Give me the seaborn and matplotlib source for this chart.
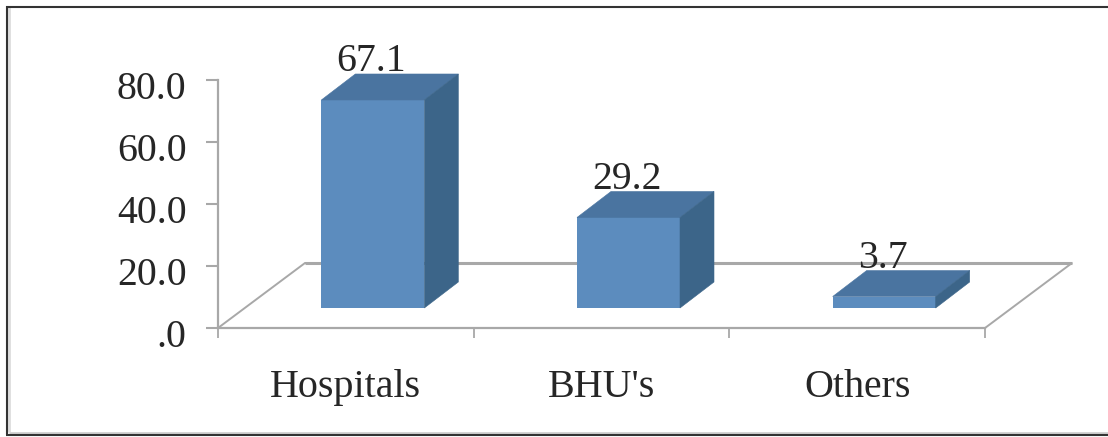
import matplotlib
matplotlib.use("Agg")
import matplotlib.pyplot as plt
from matplotlib.lines import Line2D
from matplotlib.patches import Polygon
from matplotlib.transforms import ScaledTranslation
import pandas as pd
import seaborn as sns

categories = ["Hospitals", "BHU's", "Others"]
values = [67.1, 29.2, 3.7]
y_ticks = [0, 20, 40, 60, 80]
y_tick_labels = [".0", "20.0", "40.0", "60.0", "80.0"]

W, H = 1108, 437
FRONT, TOP, SIDE = "#5c8cbe", "#4a74a0", "#3c6589"
GREY = "#a8a8a8"
INK = "#262626"

sns.set_theme(style="white")
plt.rcParams["font.family"] = ["Liberation Serif", "DejaVu Serif"]
FS = 28.6

fig = plt.figure(figsize=(W / 100, H / 100), dpi=100, facecolor="white")
left, right, y0, y80 = 218, 985, 328, 80
ax = fig.add_axes([left / W, 1 - y0 / H, (right - left) / W, (y0 - y80) / H])

df = pd.DataFrame({"category": categories, "value": values})
sns.barplot(data=df, x="category", y="value", color=FRONT, saturation=1,
            width=103 / 255.67, ax=ax, zorder=5, linewidth=0)
ax.set_xlim(-0.5, 2.5)
ax.set_ylim(0, 80)
ax.patch.set_alpha(0)

# Oblique projection: pixel depth converted to data units
px_x = 3 / (right - left)
px_y = 80 / (y0 - y80)
floor_dx, floor_dy = 87 * px_x, 65 * px_y
bar_dx, bar_dy = 34 * px_x, 26 * px_y
shift_x, shift_y = 27 * px_x, 20 * px_y

# Floor of the 3D plot
ax.add_patch(Polygon([(-0.5, 0), (-0.5 + floor_dx, floor_dy),
                      (2.5 + floor_dx, floor_dy), (2.5, 0)],
                     closed=True, fill=False, edgecolor=GREY, lw=1.4,
                     clip_on=False, zorder=1))
ax.plot([-0.5 + floor_dx, 2.5 + floor_dx], [floor_dy, floor_dy],
        color=GREY, lw=2.2, clip_on=False, zorder=1, solid_capstyle="butt")

# Lift each bar onto the floor, then add its top and side faces
for bar, val in zip(ax.patches[:len(values)], values):
    x0 = bar.get_x() + shift_x
    x1 = x0 + bar.get_width()
    b, t = shift_y, shift_y + val
    bar.set_xy((x0, b))
    ax.add_patch(Polygon([(x0, t), (x1, t), (x1 + bar_dx, t + bar_dy), (x0 + bar_dx, t + bar_dy)],
                         closed=True, fc=TOP, ec=TOP, lw=0.4, clip_on=False, zorder=5))
    ax.add_patch(Polygon([(x1, b), (x1, t), (x1 + bar_dx, t + bar_dy), (x1 + bar_dx, b + bar_dy)],
                         closed=True, fc=SIDE, ec=SIDE, lw=0.4, clip_on=False, zorder=5))
    ax.text((x0 + x1) / 2 - 1.5 * px_x, t + bar_dy + 2.5 * px_y, f"{val:.1f}", ha="center",
            va="baseline", fontsize=FS, color=INK, zorder=6, clip_on=False)

sns.despine(ax=ax, top=True, right=True, bottom=False, left=False)
for side in ("left", "bottom"):
    ax.spines[side].set_color(GREY)
    ax.spines[side].set_linewidth(1.6)

ax.set_xlabel("")
ax.set_ylabel("")
ax.set_yticks(y_ticks, y_tick_labels)
ax.set_xticks([-0.5, 0.5, 1.5, 2.5])
ax.set_xticklabels([])
ax.tick_params(axis="x", which="major", color=GREY, length=7.2, width=1.3, bottom=True)
ax.tick_params(axis="y", which="major", color=GREY, length=8.6, width=1.5, left=True,
               pad=14, labelsize=FS, labelcolor=INK)
# The value labels sit slightly below their tick marks
nudge = ScaledTranslation(0, -5 / 100, fig.dpi_scale_trans)
for label in ax.get_yticklabels():
    label.set_transform(label.get_transform() + nudge)

for pos, name in zip(range(len(categories)), categories):
    ax.annotate(name, (pos, 0), xytext=(0, -69), textcoords="offset pixels", ha="center", va="baseline",
                fontsize=FS + 0.2, color=INK, annotation_clip=False)


def frame_line(xs, ys, color, lw):
    fig.add_artist(Line2D([x / W for x in xs], [1 - y / H for y in ys], color=color, lw=lw,
                          transform=fig.transFigure, solid_capstyle="butt"))


# Outer frame: open on the right, with a soft inner shadow
frame_line([9, 9], [7, 432], "#dddddd", 2)
frame_line([9, W], [432.5, 432.5], "#cfcfcf", 2)
frame_line([6.5, 6.5], [6, 435], "#333333", 1.5)
frame_line([6, W], [6.5, 6.5], "#333333", 1.5)
frame_line([6, W], [434.5, 434.5], "#333333", 1.5)

fig.savefig("out.png", dpi=100, facecolor="white")
